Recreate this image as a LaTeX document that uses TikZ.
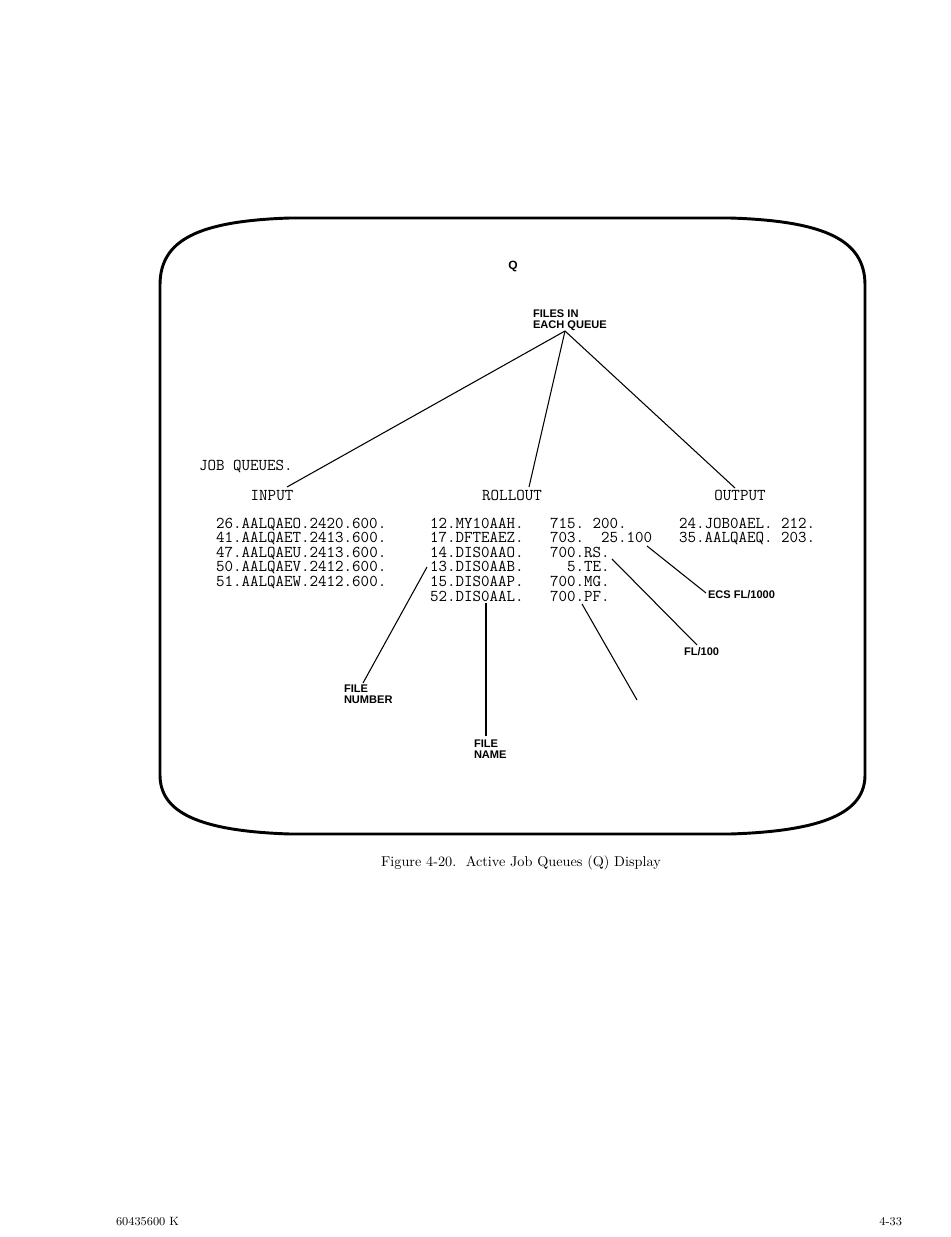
\documentclass[tikz,border=0pt]{standalone}
\usepackage{fontspec}
\newfontfamily\labfont{Liberation Sans}
\begin{document}
\begin{tikzpicture}[x=0.75pt,y=-0.75pt,
  every node/.style={inner sep=0pt, outer sep=0pt},
  mono/.style={anchor=base west, font=\ttfamily\fontsize{12.4}{10.95}\selectfont, align=left},
  lab/.style={anchor=base west, font=\labfont\bfseries\fontsize{8.3}{11}\selectfont},
  leader/.style={line width=0.8pt},
  frame/.style={line width=2.2pt, line join=round}]
\useasboundingbox (0,0) rectangle (950,1237);

% screen frame
\draw[frame] (290,218) -- (730,218)
  .. controls (825,221) and (865,240) .. (865,285)
  -- (865,775)
  .. controls (865,812) and (825,831) .. (730,834)
  -- (290,834)
  .. controls (198,831) and (160,812) .. (160,775)
  -- (160,285)
  .. controls (160,240) and (198,221) .. (290,218);

% title and callout
\node[anchor=base, font=\labfont\bfseries\fontsize{9}{11}\selectfont] (q) at (513,270) {Q};
\node[lab] (fi1) at (533,317) {FILES IN};
\node[lab] (fi2) at (533,328) {EACH QUEUE};
\coordinate (apex) at (565,331);

% headings
\node[mono] (jq) at (199,470) {JOB QUEUES.};
\node[mono, anchor=base] (inp) at (272,500) {INPUT};
\node[mono, anchor=base] (rol) at (512,500) {ROLLOUT};
\node[mono, anchor=base] (out) at (740,500) {OUTPUT};
\coordinate (inpT) at (287,487);
\coordinate (rolT) at (529,487);
\coordinate (outT) at (735,488);
\draw[leader] (apex) -- (inpT);
\draw[leader] (apex) -- (rolT);
\draw[leader] (apex) -- (outT);

% data columns (anchor = baseline of last line)
\node[mono] (c1) at (216,586.4) {26.AALQAEO.2420.600.\\41.AALQAET.2413.600.\\47.AALQAEU.2413.600.\\50.AALQAEV.2412.600.\\51.AALQAEW.2412.600.};
\node[mono] (c2) at (430,601) {12.MY10AAH.\\17.DFTEAEZ.\\14.DIS0AAO.\\13.DIS0AAB.\\15.DIS0AAP.\\52.DIS0AAL.};
\node[mono] (c3) at (550,601) {715.\ 200.\\703.\ \ 25.100\\700.RS.\\\ \ 5.TE.\\700.MG.\\700.PF.};
\node[mono] (c4) at (679,542.6) {24.JOB0AEL.\ 212.\\35.AALQAEQ.\ 203.};

% leader labels
\node[lab] (fn1) at (344,692) {FILE};
\node[lab] (fn2) at (344,703) {NUMBER};
\node[lab] (fm1) at (474,747) {FILE};
\node[lab] (fm2) at (474,758) {NAME};
\node[lab] (fl) at (684,655) {FL/100};
\node[lab] (ecs) at (708,598) {ECS FL/1000};

\coordinate (s13) at (427,567);
\coordinate (fnT) at (363,683);
\coordinate (s52) at (486,603);
\coordinate (fmT) at (486,736);
\coordinate (spf) at (582,604);
\coordinate (epf) at (637,700);
\coordinate (srs) at (612,559);
\coordinate (flT) at (697,645);
\coordinate (s25) at (647,546);
\coordinate (ecsL) at (706,593);
\draw[leader] (s13) -- (fnT);
\draw[leader] (s52) -- (fmT);
\draw[leader] (spf) -- (epf);
\draw[leader] (srs) -- (flT);
\draw[leader] (s25) -- (ecsL);

% caption and footer
\node[anchor=base, font=\rmfamily\fontsize{10.7}{13}\selectfont] (cap) at (521,866) {Figure 4-20.\ \ Active Job Queues (Q) Display};
\node[anchor=base west, font=\rmfamily\fontsize{9}{11}\selectfont] (ft1) at (116,1225) {60435600 K};
\node[anchor=base east, font=\rmfamily\fontsize{9}{11}\selectfont] (ft2) at (902,1225) {4-33};
\end{tikzpicture}
\end{document}
